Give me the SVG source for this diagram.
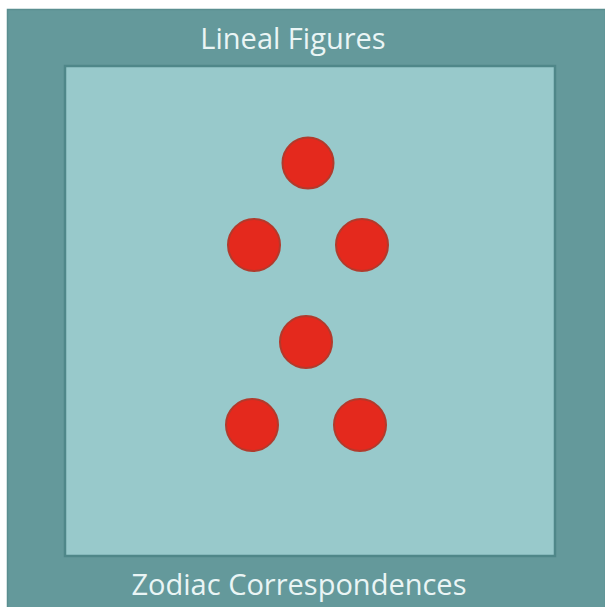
<svg xmlns="http://www.w3.org/2000/svg" width="605" height="607" viewBox="0 0 605 607">
<style>
.lbl{font-family:"Open Sans","Liberation Sans",sans-serif;font-size:29px;fill:#eaf5f5;text-anchor:middle}
.dot{fill:#e4291d;stroke:#b23a2c;stroke-width:2}
</style>
<rect x="0" y="0" width="605" height="607" fill="#ffffff"/>
<g id="frame">
<rect x="7.5" y="9.5" width="598" height="600" fill="#64999b" stroke="#5a8e90" stroke-width="1.5"/>
<rect x="65" y="66" width="490" height="490" fill="#98c9cb" stroke="#4f8789" stroke-width="2.5"/>
</g>
<g id="title"><text class="lbl" x="293" y="49">Lineal Figures</text></g>
<g id="footer"><text class="lbl" x="299" y="595">Zodiac Correspondences</text></g>
<g id="n1"><circle class="dot" cx="308" cy="163" r="25.5"/></g>
<g id="n2"><circle class="dot" cx="254" cy="245" r="26"/></g>
<g id="n3"><circle class="dot" cx="362" cy="245" r="26"/></g>
<g id="n4"><circle class="dot" cx="306" cy="342" r="26"/></g>
<g id="n5"><circle class="dot" cx="252" cy="425" r="26"/></g>
<g id="n6"><circle class="dot" cx="360" cy="425" r="26"/></g>
<g id="connectors"/>
</svg>
